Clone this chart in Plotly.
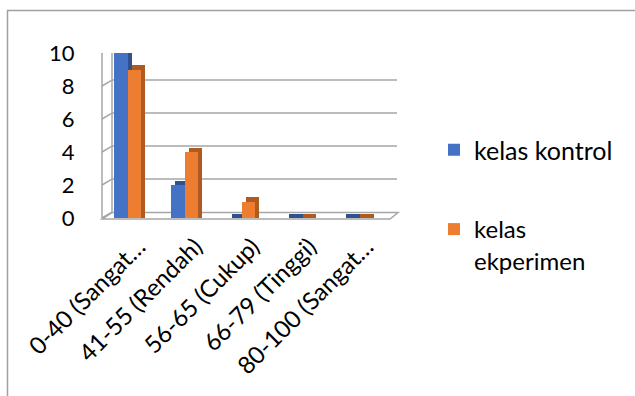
import plotly.graph_objects as go

categories = ["0-40 (Sangat…", "41-55 (Rendah)", "56-65 (Cukup)", "66-79 (Tinggi)", "80-100 (Sangat…"]
kontrol = [10, 2, 0, 0, 0]
eksperimen = [9, 4, 1, 0, 0]
y_ticks = [0, 2, 4, 6, 8, 10]
series_names = ["kelas kontrol", "kelas<br>ekperimen"]

W, H = 635, 396
blue, blue_d = "#4472C4", "#2F528F"
orange, orange_d = "#ED7D31", "#AE5A21"
grey = "#A6A6A6"
xs = list(range(len(categories)))
bw = 0.237
dx, dy = 0.075, 0.25
back_off = 0.36  # back wall offset (data units) for the pseudo-3D frame
label_shift = 0.2  # category label anchor shift (perspective)

fig = go.Figure()
# side/top faces (pseudo 3D depth)
fig.add_trace(go.Bar(x=xs, y=[v + dy for v in kontrol], offset=-bw + dx, width=bw,
                     marker=dict(color=blue_d, line_width=0), showlegend=False, hoverinfo="skip"))
fig.add_trace(go.Bar(x=xs, y=[v + dy for v in eksperimen], offset=dx, width=bw,
                     marker=dict(color=orange_d, line_width=0), showlegend=False, hoverinfo="skip"))
# front faces
fig.add_trace(go.Bar(x=xs, y=kontrol, offset=-bw, width=bw, name=series_names[0],
                     marker=dict(color=blue, line_width=0), legend="legend"))
fig.add_trace(go.Bar(x=xs, y=eksperimen, offset=0, width=bw, name=series_names[1],
                     marker=dict(color=orange, line_width=0), legend="legend2"))

def px(x):
    return x / W

def py(y):
    return 1 - y / H

x0, x1 = 98.5, 398
y0, y1 = 218, 53
fig.update_layout(
    width=W, height=H, margin=dict(l=0, r=0, t=0, b=0, autoexpand=False),
    paper_bgcolor="white", plot_bgcolor="rgba(0,0,0,0)",
    barmode="overlay", bargap=0,
    font=dict(family="Lato", color="#000000"),
    xaxis=dict(domain=[px(x0), px(x1)], range=[-0.5, 4.75], tickmode="array",
               tickvals=[x + label_shift for x in xs], ticktext=categories, tickangle=-45,
               automargin=False, tickfont=dict(size=24), showgrid=False, zeroline=False,
               showline=False, ticks="", ticklabelstandoff=9),
    yaxis=dict(domain=[py(y0), py(y1)], range=[0, 10], tickvals=y_ticks, automargin=False,
               tickfont=dict(size=22), showgrid=False,
               zeroline=False, showline=False, ticks="", ticklabelstandoff=23),
    legend=dict(x=px(434), y=py(127), xanchor="left", yanchor="top",
                font=dict(size=25), bgcolor="rgba(0,0,0,0)"),
    legend2=dict(x=px(434), y=py(207), xanchor="left", yanchor="top", valign="top",
                 font=dict(size=24), bgcolor="rgba(0,0,0,0)"),
    showlegend=True,
)

# pseudo-3D gridlines: short diagonal from front axis to back wall, then along back wall
for t in y_ticks:
    fig.add_shape(type="line", xref="paper", yref="y", x0=px(102), x1=px(112), y0=t, y1=t + back_off,
                  line=dict(color=grey, width=1.5), layer="below")
    if t > 0:
        fig.add_shape(type="line", xref="paper", yref="y", x0=px(112), x1=px(397),
                      y0=t + back_off, y1=t + back_off, line=dict(color=grey, width=1.5), layer="below")
# back wall left edge and front axis
fig.add_shape(type="line", xref="paper", yref="y", x0=px(112), x1=px(112), y0=back_off, y1=10 + back_off,
              line=dict(color=grey, width=1.5), layer="below")
fig.add_shape(type="line", xref="paper", yref="y", x0=px(102), x1=px(102), y0=-0.05, y1=10,
              line=dict(color=grey, width=1.5), layer="below")
# floor
fig.add_shape(type="path", xref="paper", yref="paper",
              path=f"M {px(102)} {py(219)} L {px(390)} {py(219)} L {px(398)} {py(212.5)} L {px(112)} {py(212.5)} Z",
              line=dict(color=grey, width=1.5), fillcolor="rgba(0,0,0,0)", layer="below")
# outer chart border
fig.add_shape(type="rect", xref="paper", yref="paper", x0=px(7.5), x1=px(640), y0=py(400), y1=py(10.5),
              line=dict(color="#A0A0A0", width=1.5), fillcolor="rgba(0,0,0,0)", layer="below")

fig.write_html("out.html")
